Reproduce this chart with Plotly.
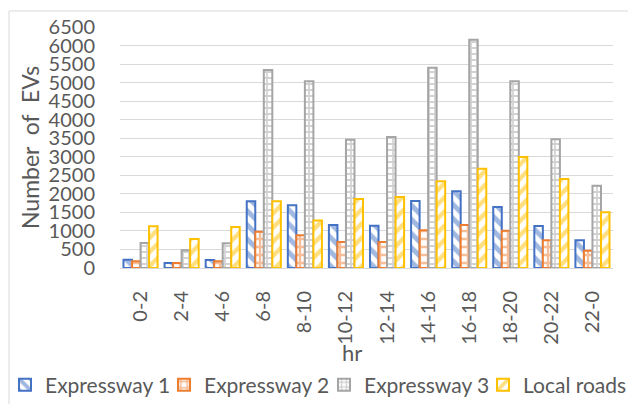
import plotly.graph_objects as go

# Hourly EV counts per road type
hours = ["0-2", "2-4", "4-6", "6-8", "8-10", "10-12", "12-14", "14-16",
         "16-18", "18-20", "20-22", "22-0"]
expressway_1 = [225, 135, 216, 1798, 1690, 1160, 1142, 1807, 2068, 1645, 1133, 746]
expressway_2 = [180, 135, 180, 980, 881, 701, 701, 1016, 1160, 1007, 746, 467]
expressway_3 = [675, 476, 665, 5340, 5040, 3461, 3533, 5403, 6158, 5035, 3470, 2221]
local_roads = [1124, 782, 1106, 1798, 1280, 1861, 1915, 2337, 2679, 2994, 2400, 1501]
y_ticks = list(range(0, 6501, 500))

BLUE = "#4472C4"
ORANGE = "#ED7D31"
GREY = "#A5A5A5"
GOLD = "#FFC000"
TEXT = "#595959"
FONT = "Lato"


def px_x(p):
    return (p - 120) / 493


def px_y(p):
    return (268 - p) / 241


series = [
    ("Expressway 1", expressway_1, BLUE, dict(shape="\\", fgcolor=BLUE, bgcolor="white", size=10, solidity=0.5)),
    ("Expressway 2", expressway_2, ORANGE, dict(shape="+", fgcolor=ORANGE, bgcolor="white", size=8, solidity=0.5)),
    ("Expressway 3", expressway_3, GREY, dict(shape="+", fgcolor=GREY, bgcolor="white", size=6, solidity=0.5)),
    ("Local roads", local_roads, GOLD, dict(shape="/", fgcolor=GOLD, bgcolor="white", size=10, solidity=0.45)),
]
# one legend box per series, laid out in a single row under the axis
legend_ids = ["legend", "legend2", "legend3", "legend4"]
legend_left = [5, 164, 324, 483]

fig = go.Figure()
for (name, vals, col, pat), lid in zip(series, legend_ids):
    fig.add_trace(go.Bar(
        name=name, x=hours, y=vals, legend=lid,
        marker=dict(color="white", line=dict(color=col, width=2), pattern=pat),
    ))

legend_style = {}
for lid, left in zip(legend_ids, legend_left):
    legend_style[lid] = dict(
        orientation="h", x=px_x(left), xanchor="left", y=px_y(385), yanchor="middle",
        font=dict(size=21, color=TEXT, family=FONT),
        itemwidth=30, bgcolor="rgba(0,0,0,0)",
    )

fig.update_layout(
    width=628, height=404,
    margin=dict(l=120, r=15, t=27, b=136, autoexpand=False),
    paper_bgcolor="white", plot_bgcolor="white",
    barmode="group", bargap=0.17, bargroupgap=0.0,
    font=dict(family=FONT, color=TEXT, size=20),
    showlegend=True,
    **legend_style,
    xaxis=dict(
        type="category", tickangle=-90, showgrid=False, automargin=False,
        showline=True, linecolor="#D9D9D9", linewidth=1,
        ticks="outside", ticklen=14, tickcolor="rgba(0,0,0,0)",
        tickfont=dict(size=20, color=TEXT, family=FONT),
    ),
    yaxis=dict(
        range=[0, 6500], tickvals=y_ticks, ticktext=[str(v) for v in y_ticks],
        showgrid=True, gridcolor="#D9D9D9", gridwidth=1, zeroline=False, automargin=False,
        ticks="outside", ticklen=20, tickcolor="rgba(0,0,0,0)",
        tickfont=dict(size=20, color=TEXT, family=FONT),
    ),
    annotations=[
        dict(text="Number\u00a0 of\u00a0 EVs", textangle=-90, xref="paper", yref="paper",
             x=px_x(30), y=px_y(148), xanchor="center", yanchor="middle", showarrow=False,
             font=dict(size=23, color=TEXT, family=FONT)),
        dict(text="hr", xref="paper", yref="paper", x=px_x(352), y=px_y(352),
             xanchor="center", yanchor="middle", showarrow=False,
             font=dict(size=22, color=TEXT, family=FONT)),
    ],
    shapes=[
        dict(type="rect", xref="paper", yref="paper",
             x0=px_x(9), x1=1.2, y0=-0.7, y1=px_y(11),
             line=dict(color="#D9D9D9", width=1), fillcolor="rgba(0,0,0,0)", layer="below"),
    ],
)

fig.write_html("out.html")
